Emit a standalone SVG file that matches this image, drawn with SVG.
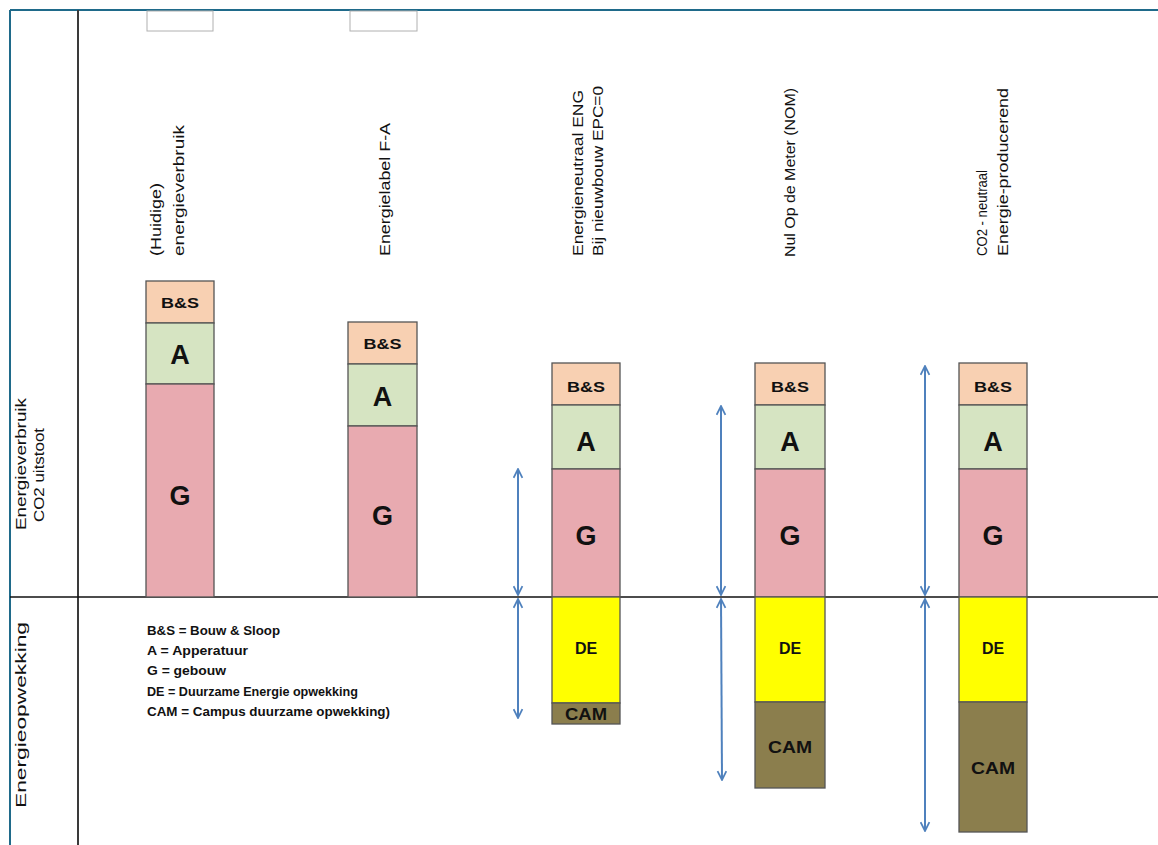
<svg xmlns="http://www.w3.org/2000/svg" width="1158" height="845" viewBox="0 0 1158 845">
<style>
text{font-family:"Liberation Sans",Arial,sans-serif;fill:#111}
.rl{font-size:14px}
.bs{font-size:15px;font-weight:bold;text-anchor:middle}
.big{font-size:27px;font-weight:bold;text-anchor:middle}
.de{font-size:16px;font-weight:bold;text-anchor:middle}
.leg{font-size:12px;font-weight:bold}
.seg{stroke:#555;stroke-width:1.3}
.c-bs{fill:#f8d0b2}
.c-a{fill:#d6e4c2}
.c-g{fill:#e8aab0}
.c-de{fill:#ffff00}
.c-cam{fill:#8b7e4d}
.arr{stroke:#4f81bd;stroke-width:2;fill:none;marker-start:url(#ah);marker-end:url(#ah)}
</style>
<defs>
<marker id="ah" viewBox="0 0 10 10" refX="9" refY="5" markerWidth="11" markerHeight="11" markerUnits="userSpaceOnUse" orient="auto-start-reverse">
<path d="M1,1 L9,5 L1,9" fill="none" stroke="#4f81bd" stroke-width="1.6"/>
</marker>
</defs>
<rect x="0" y="0" width="1158" height="845" fill="#ffffff"/>
<g id="frame">
<line x1="10" y1="10" x2="1158" y2="10" stroke="#1f6a8a" stroke-width="2"/>
<line x1="10" y1="10" x2="10" y2="845" stroke="#1f6a8a" stroke-width="2"/>
<line x1="78" y1="10" x2="78" y2="845" stroke="#3a3a3a" stroke-width="2"/>
<line x1="10" y1="597" x2="1158" y2="597" stroke="#111" stroke-width="1.6"/>
<rect x="147" y="11" width="66" height="20" fill="none" stroke="#b0b0b0" stroke-width="1"/>
<rect x="350" y="11" width="67" height="20" fill="none" stroke="#b0b0b0" stroke-width="1"/>
</g>
<g id="axis-labels">
<text class="rl" transform="translate(26,530) rotate(-90)" textLength="132" lengthAdjust="spacingAndGlyphs">Energieverbruik</text>
<text class="rl" transform="translate(44,522) rotate(-90)" textLength="94" lengthAdjust="spacingAndGlyphs">CO2 uitstoot</text>
<text class="rl" transform="translate(26,808) rotate(-90)" textLength="186" lengthAdjust="spacingAndGlyphs">Energieopwekking</text>
</g>
<g id="col1">
<text class="rl" transform="translate(161,256) rotate(-90)" textLength="73" lengthAdjust="spacingAndGlyphs">(Huidige)</text>
<text class="rl" transform="translate(184,256) rotate(-90)" textLength="131" lengthAdjust="spacingAndGlyphs">energieverbruik</text>
<rect class="seg c-bs" x="146" y="281" width="68" height="42"/>
<rect class="seg c-a" x="146" y="323" width="68" height="61"/>
<rect class="seg c-g" x="146" y="384" width="68" height="213"/>
<text class="bs" x="180" y="308" textLength="38" lengthAdjust="spacingAndGlyphs">B&amp;S</text>
<text class="big" x="180" y="364">A</text>
<text class="big" x="180" y="505">G</text>
</g>
<g id="col2">
<text class="rl" transform="translate(390,256) rotate(-90)" textLength="133" lengthAdjust="spacingAndGlyphs">Energielabel F-A</text>
<rect class="seg c-bs" x="348" y="322" width="69" height="42"/>
<rect class="seg c-a" x="348" y="364" width="69" height="62"/>
<rect class="seg c-g" x="348" y="426" width="69" height="171"/>
<text class="bs" x="382.5" y="349" textLength="38" lengthAdjust="spacingAndGlyphs">B&amp;S</text>
<text class="big" x="382.5" y="406">A</text>
<text class="big" x="382.5" y="525">G</text>
</g>
<g id="col3">
<text class="rl" transform="translate(583,256) rotate(-90)" textLength="166" lengthAdjust="spacingAndGlyphs">Energieneutraal ENG</text>
<text class="rl" transform="translate(603,256) rotate(-90)" textLength="170" lengthAdjust="spacingAndGlyphs">Bij nieuwbouw EPC=0</text>
<rect class="seg c-bs" x="552" y="363" width="68" height="42"/>
<rect class="seg c-a" x="552" y="405" width="68" height="64"/>
<rect class="seg c-g" x="552" y="469" width="68" height="128"/>
<rect class="seg c-de" x="552" y="597" width="68" height="106"/>
<rect class="seg c-cam" x="552" y="703" width="68" height="21"/>
<text class="bs" x="586" y="392" textLength="38" lengthAdjust="spacingAndGlyphs">B&amp;S</text>
<text class="big" x="586" y="451">A</text>
<text class="big" x="586" y="545">G</text>
<text class="de" x="586" y="654">DE</text>
<text class="de" x="586" y="720" textLength="42" lengthAdjust="spacingAndGlyphs">CAM</text>
</g>
<g id="col4">
<text class="rl" transform="translate(795,257) rotate(-90)" textLength="169" lengthAdjust="spacingAndGlyphs">Nul Op de Meter (NOM)</text>
<rect class="seg c-bs" x="755" y="363" width="70" height="42"/>
<rect class="seg c-a" x="755" y="405" width="70" height="64"/>
<rect class="seg c-g" x="755" y="469" width="70" height="128"/>
<rect class="seg c-de" x="755" y="597" width="70" height="105"/>
<rect class="seg c-cam" x="755" y="702" width="70" height="86"/>
<text class="bs" x="790" y="392" textLength="38" lengthAdjust="spacingAndGlyphs">B&amp;S</text>
<text class="big" x="790" y="451">A</text>
<text class="big" x="790" y="545">G</text>
<text class="de" x="790" y="654">DE</text>
<text class="de" x="790" y="753" textLength="44" lengthAdjust="spacingAndGlyphs">CAM</text>
</g>
<g id="col5">
<text class="rl" transform="translate(987,256) rotate(-90)" textLength="86" lengthAdjust="spacingAndGlyphs">CO2 - neutraal</text>
<text class="rl" transform="translate(1008,256) rotate(-90)" textLength="168" lengthAdjust="spacingAndGlyphs">Energie-producerend</text>
<rect class="seg c-bs" x="959" y="363" width="68" height="42"/>
<rect class="seg c-a" x="959" y="405" width="68" height="64"/>
<rect class="seg c-g" x="959" y="469" width="68" height="128"/>
<rect class="seg c-de" x="959" y="597" width="68" height="105"/>
<rect class="seg c-cam" x="959" y="702" width="68" height="130"/>
<text class="bs" x="993" y="392" textLength="38" lengthAdjust="spacingAndGlyphs">B&amp;S</text>
<text class="big" x="993" y="451">A</text>
<text class="big" x="993" y="545">G</text>
<text class="de" x="993" y="654">DE</text>
<text class="de" x="993" y="774" textLength="44" lengthAdjust="spacingAndGlyphs">CAM</text>
</g>
<g id="legend">
<text class="leg" x="147" y="635" textLength="133" lengthAdjust="spacingAndGlyphs">B&amp;S = Bouw &amp; Sloop</text>
<text class="leg" x="147" y="655" textLength="101" lengthAdjust="spacingAndGlyphs">A = Apperatuur</text>
<text class="leg" x="147" y="675" textLength="79" lengthAdjust="spacingAndGlyphs">G = gebouw</text>
<text class="leg" x="147" y="696" textLength="211" lengthAdjust="spacingAndGlyphs">DE = Duurzame Energie opwekking</text>
<text class="leg" x="147" y="716" textLength="243" lengthAdjust="spacingAndGlyphs">CAM = Campus duurzame opwekking)</text>
</g>
<g id="connectors">
<line class="arr" x1="518" y1="469" x2="518" y2="595"/>
<line class="arr" x1="518" y1="599" x2="518" y2="718"/>
<line class="arr" x1="721" y1="406" x2="721" y2="595"/>
<line class="arr" x1="721" y1="599" x2="722" y2="780"/>
<line class="arr" x1="925" y1="366" x2="925" y2="595"/>
<line class="arr" x1="925" y1="599" x2="925" y2="831"/>
</g>
</svg>
